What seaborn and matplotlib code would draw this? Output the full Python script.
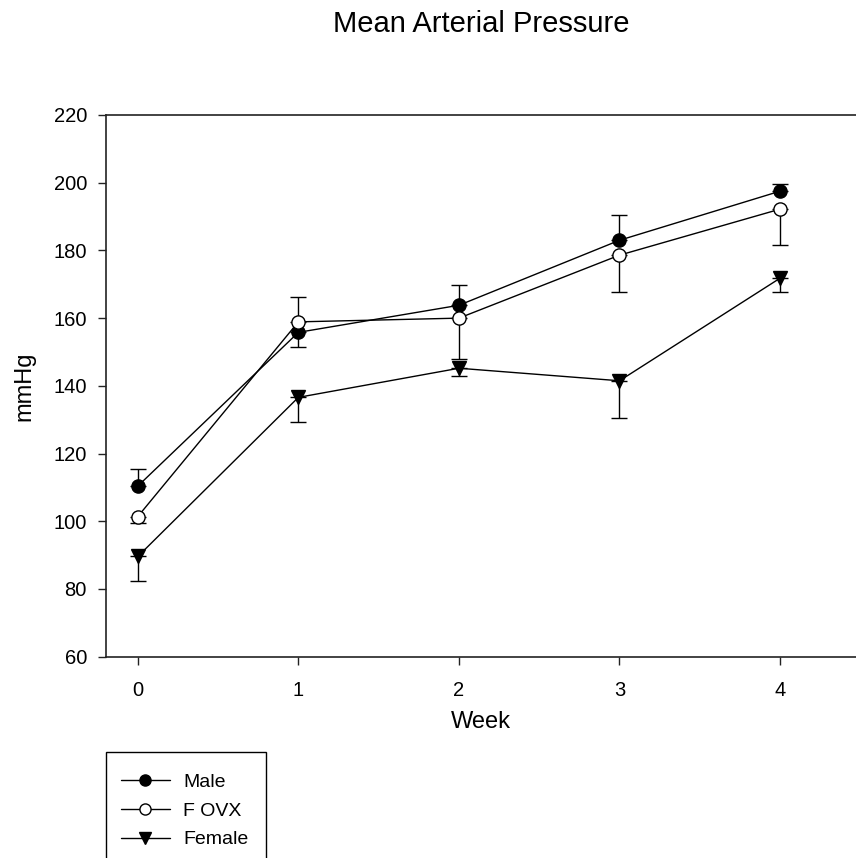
import matplotlib
matplotlib.use("Agg")
import matplotlib.pyplot as plt
from matplotlib.patches import Rectangle
from matplotlib.lines import Line2D
import seaborn as sns
import pandas as pd
import numpy as np

weeks = [0, 1, 2, 3, 4]
groups = ["Male", "F OVX", "Female"]
male = [110.4, 155.8, 163.8, 183.0, 197.5]
male_lo = [0, 4.4, 0, 0, 0]
male_hi = [4.9, 0, 5.9, 7.5, 2.1]
fovx = [101.4, 158.9, 160.0, 178.6, 192.2]
fovx_lo = [1.8, 0, 12.2, 11.0, 10.7]
fovx_hi = [0, 7.2, 0, 0, 0]
female = [89.6, 136.6, 145.2, 141.5, 171.8]
female_lo = [7.1, 7.4, 2.3, 10.9, 4.2]
female_hi = [0, 0, 0, 0, 0]

sns.set_theme(style="ticks")
plt.rcParams["font.family"] = ["Liberation Sans", "DejaVu Sans"]
plt.rcParams["text.color"] = "black"
plt.rcParams["axes.labelcolor"] = "black"

df = pd.DataFrame({
    "Week": weeks * 3,
    "mmHg": male + fovx + female,
    "Group": [g for g in groups for _ in weeks],
})

W, H = 856, 858
fig = plt.figure(figsize=(W / 100, H / 100), dpi=100)
ax = fig.add_axes([105.7 / W, 1 - 656.7 / H, 1 - 105.7 / W, (656.7 - 115) / H])

errs = {
    "Male": (male, male_lo, male_hi),
    "F OVX": (fovx, fovx_lo, fovx_hi),
    "Female": (female, female_lo, female_hi),
}
for g in groups:
    v, lo, hi = errs[g]
    ax.errorbar(weeks, v, yerr=[lo, hi], fmt="none", ecolor="black",
                elinewidth=1.0, capsize=5.8, capthick=1.0, zorder=2)

sns.lineplot(data=df, x="Week", y="mmHg", hue="Group", style="Group",
             hue_order=groups, style_order=groups,
             palette=["black", "black", "black"],
             markers={"Male": "o", "F OVX": "o", "Female": "v"},
             dashes=False, linewidth=1.0, markersize=9.5, ax=ax, zorder=3,
             legend=False)

lines = ax.get_lines()[-3:]
styles = {"Male": ("o", "black"), "F OVX": ("o", "white"), "Female": ("v", "black")}
for ln, g in zip(lines, groups):
    m, fc = styles[g]
    ln.set_marker(m)
    ln.set_markerfacecolor(fc)
    ln.set_markeredgecolor("black")
    ln.set_markeredgewidth(1.0)
    ln.set_markersize(9.5 if m == "o" else 10.5)
    ln.set_label(g)

ax.set_xlim(-0.2, 4.473)
ax.set_ylim(60, 220)
ax.set_xticks(weeks)
ax.set_yticks(np.arange(60, 221, 20))
ax.spines["right"].set_visible(False)
for s in ["left", "top", "bottom"]:
    ax.spines[s].set_linewidth(1.2)
    ax.spines[s].set_color("#222222")
ax.tick_params(axis="both", direction="out", length=5.5, width=1.0,
               colors="#222222", labelcolor="black", labelsize=14.5)
ax.tick_params(axis="x", pad=12)
ax.tick_params(axis="y", pad=8)
ax.set_xlabel("Week", fontsize=17, labelpad=8)
ax.set_ylabel("mmHg", fontsize=17, labelpad=13)

fig.text(481 / W, 1 - 32 / H, "Mean Arterial Pressure", ha="center",
         va="baseline", fontsize=21)

leg_handles = []
for g in groups:
    m, fc = styles[g]
    leg_handles.append(Line2D([], [], color="black", linewidth=1.0, marker=m,
                              markerfacecolor=fc, markeredgecolor="black",
                              markersize=8 if m == "o" else 9))

leg = fig.legend(handles=leg_handles, labels=groups, loc="upper left",
                 bbox_to_anchor=(121 / W, 1 - 773 / H), fontsize=14,
                 frameon=False, borderpad=0, labelspacing=0.58,
                 handlelength=2.5, handletextpad=0.7, borderaxespad=0)

fig.patches.append(Rectangle((106 / W, -0.05), (266 - 106) / W, 0.05 + 1 - 752 / H,
                             transform=fig.transFigure, fill=False,
                             edgecolor="black", linewidth=1.0, figure=fig))

fig.savefig("out.png", dpi=100)
